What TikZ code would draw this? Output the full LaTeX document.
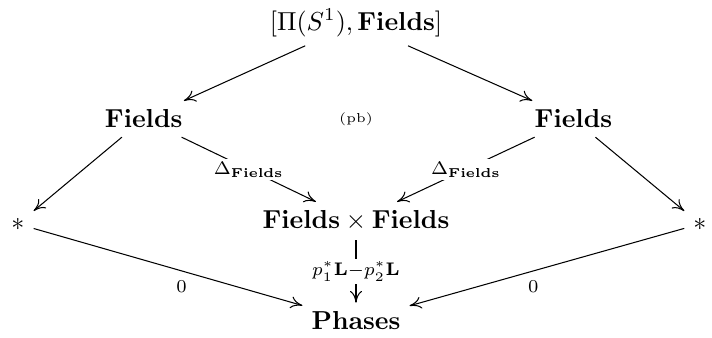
\documentclass[tikz,border=0pt]{standalone}
\usetikzlibrary{positioning, arrows.meta}

\begin{document}
\begin{tikzpicture}[
    on grid,
    arrow/.style={-{To[length=4.5pt, width=4.6pt]}},
    desc/.style={fill=white, inner sep=1pt},
    lbl/.style={inner sep=3.5pt, pos=0.55}
]
    \useasboundingbox (-4.813,-1.568) rectangle (4.813,2.988);

    % Middle column
    \node (prod) at (0,0) {$\mathbf{Fields}\times\mathbf{Fields}$};
    \node (loop) [above=2.68cm of prod] {$[\Pi(S^1),\mathbf{Fields}]$};
    \node (pb) [above=1.38cm of prod] {\tiny (pb)};
    \node (phases) [below=1.35cm of prod] {$\mathbf{Phases}$};

    % Sides
    \node (fl) [above left=1.38cm and 2.87cm of prod] {$\mathbf{Fields}$};
    \node (fr) [above right=1.38cm and 2.94cm of prod] {$\mathbf{Fields}$};
    \node (ptl) [below left=0.04cm and 4.57cm of prod] {$*$};
    \node (ptr) [below right=0.04cm and 4.65cm of prod] {$*$};

    % Maps
    \draw [arrow] (loop) -- (fl);
    \draw [arrow] (loop) -- (fr);
    \draw [arrow] (fl) -- (ptl);
    \draw [arrow] (fr) -- (ptr);
    \draw [arrow] (fl) -- node[desc] {$\scriptstyle\Delta_{\mathbf{Fields}}$} (prod);
    \draw [arrow] (fr) -- node[desc] {$\scriptstyle\Delta_{\mathbf{Fields}}$} (prod);
    \draw [arrow] (prod) -- node[desc] {$\scriptstyle p_1^*\mathbf{L}-p_2^*\mathbf{L}$} (phases);
    \draw [arrow] (ptl) -- node[lbl, below] {$\scriptstyle 0$} (phases);
    \draw [arrow] (ptr) -- node[lbl, below] {$\scriptstyle 0$} (phases);
\end{tikzpicture}
\end{document}
